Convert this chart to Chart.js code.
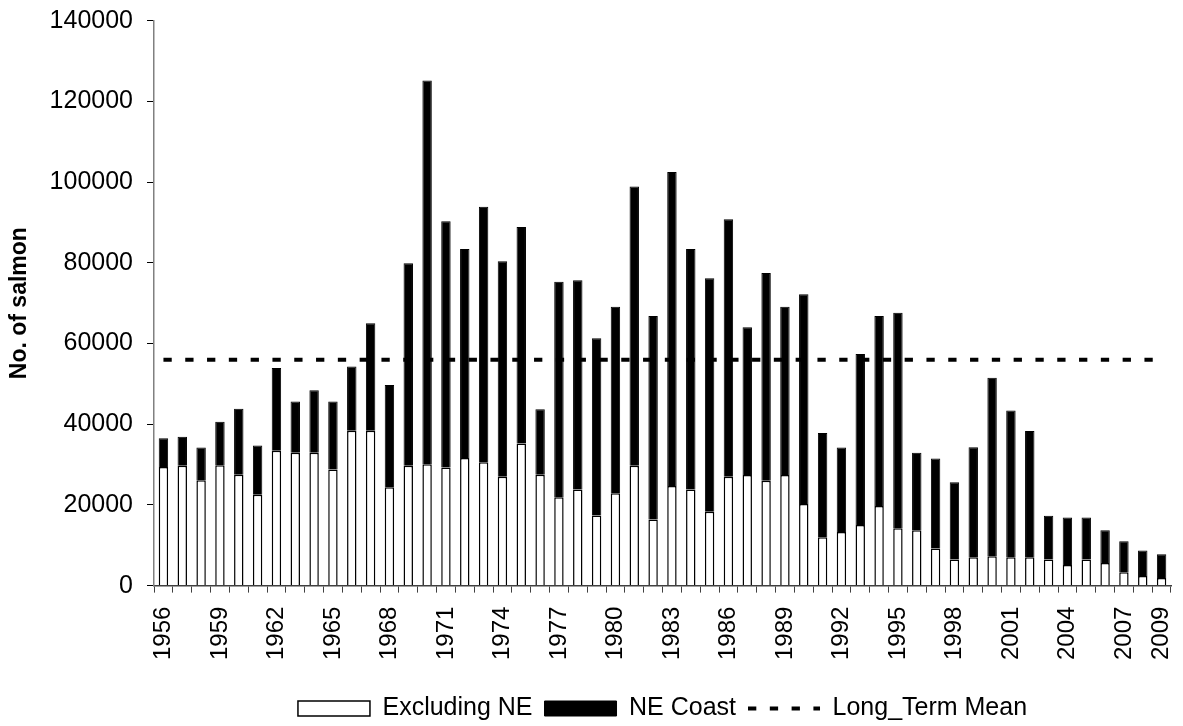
<!DOCTYPE html>
<html>
<head>
<meta charset="utf-8">
<script src="https://cdn.jsdelivr.net/npm/chart.js@4.4.1/dist/chart.umd.min.js"></script>
<style>
  html, body { margin: 0; padding: 0; background: #fff; }
  #wrap { width: 1183px; height: 726px; }
</style>
</head>
<body>
<div id="wrap"><canvas id="salmonChart"></canvas></div>
<script>
const years = [
  "1956", "1957", "1958", "1959", "1960", "1961", "1962", "1963", "1964", "1965",
  "1966", "1967", "1968", "1969", "1970", "1971", "1972", "1973", "1974", "1975",
  "1976", "1977", "1978", "1979", "1980", "1981", "1982", "1983", "1984", "1985",
  "1986", "1987", "1988", "1989", "1990", "1991", "1992", "1993", "1994", "1995",
  "1996", "1997", "1998", "1999", "2000", "2001", "2002", "2003", "2004", "2005",
  "2006", "2007", "2008", "2009"
];

// catch outside the NE coast (white part of the bar)
const excludingNE = [
  29400, 29700, 26100, 29800, 27500, 22500, 33400, 32900, 32900, 28800,
  38400, 38400, 24400, 29700, 30100, 29300, 31600, 30600, 27000, 35200,
  27500, 21900, 23800, 17400, 22900, 29700, 16400, 24700, 23800, 18300,
  27000, 27400, 26000, 27400, 20200, 12000, 13300, 15000, 19700, 14200,
  13700, 9200, 6500, 7000, 7300, 7000, 7000, 6500, 5100, 6500,
  5600, 3300, 2400, 1900
];

// NE coast catch (black part, stacked on top)
const neCoast = [
  7100, 7200, 8100, 10800, 16300, 12200, 20500, 12700, 15500, 16800,
  15900, 26600, 25300, 50200, 95100, 61000, 51800, 63300, 53400, 53700,
  16200, 53400, 51900, 43900, 46200, 69200, 50400, 77800, 59600, 57900,
  63800, 36600, 51500, 41700, 52000, 25800, 20900, 42400, 47100, 53400,
  19200, 22300, 19100, 27300, 44200, 36400, 31300, 10800, 11800, 10400,
  8100, 7700, 6300, 5900
];

const longTermMean = 56000;
const yTicks = [0, 20000, 40000, 60000, 80000, 100000, 120000, 140000];

const FONT = "'Liberation Sans', Arial, sans-serif";
const MEAN_DASH = [8.3, 13.5];

const ctx = document.getElementById('salmonChart').getContext('2d');

new Chart(ctx, {
  data: {
    labels: years,
    datasets: [
      {
        type: 'bar',
        label: 'Excluding NE',
        data: excludingNE,
        backgroundColor: '#ffffff',
        borderColor: '#000000',
        borderWidth: 1.5,
        stack: 'catch',
        categoryPercentage: 1,
        barPercentage: 0.5
      },
      {
        type: 'bar',
        label: 'NE Coast',
        data: neCoast,
        backgroundColor: '#000000',
        borderColor: '#000000',
        borderWidth: 1,
        stack: 'catch',
        categoryPercentage: 1,
        barPercentage: 0.5
      },
      {
        type: 'line',
        label: 'Long_Term Mean',
        data: years.map(() => longTermMean),
        borderColor: '#000000',
        backgroundColor: '#000000',
        borderWidth: 4,
        borderDash: MEAN_DASH,
        pointRadius: 0,
        fill: false,
        stack: 'mean'
      }
    ]
  },
  options: {
    responsive: true,
    maintainAspectRatio: false,
    animation: false,
    layout: { padding: { top: 20.7, right: 12, bottom: -5, left: 0 } },
    scales: {
      x: {
        stacked: true,
        offset: true,
        // labels may hang past the plot edge, like Excel does
        afterFit: s => { s.paddingLeft = 0; s.paddingRight = 0; s.height += 10; },
        grid: {
          offset: true,
          drawOnChartArea: false,
          drawTicks: true,
          tickLength: 7,
          color: '#404040'
        },
        border: { color: '#404040', width: 1.5 },
        ticks: {
          autoSkip: false,
          maxRotation: 90,
          minRotation: 90,
          padding: 14,
          color: '#000',
          font: { family: FONT, size: 24 },
          callback: (v, i) => (i % 3 === 0 || i === years.length - 1) ? years[i] : ''
        }
      },
      y: {
        stacked: true,
        min: 0,
        max: 140000,
        afterBuildTicks: axis => { axis.ticks = yTicks.map(v => ({ value: v })); },
        afterFit: s => { s.paddingTop = 0; s.paddingBottom = 0; },
        grid: {
          drawOnChartArea: false,
          drawTicks: true,
          tickLength: 7,
          color: '#000'
        },
        border: { color: '#808080', width: 1.5 },
        ticks: {
          padding: 14,
          color: '#000',
          font: { family: FONT, size: 25 },
          callback: v => String(v)
        },
        title: {
          display: true,
          text: 'No. of salmon',
          color: '#000',
          font: { family: FONT, size: 23, weight: 'bold' },
          padding: { top: 6, bottom: 2 }
        }
      }
    },
    plugins: {
      tooltip: { enabled: false },
      legend: {
        position: 'bottom',
        fullSize: false,
        labels: {
          usePointStyle: true,
          pointStyleWidth: 72,
          boxHeight: 15,
          padding: 12,
          color: '#000',
          font: { family: FONT, size: 25 },
          generateLabels: chart => {
            const items = Chart.defaults.plugins.legend.labels.generateLabels(chart);
            items.forEach(it => {
              if (it.datasetIndex === 2) {
                it.pointStyle = 'line';
                it.lineDash = MEAN_DASH;
                it.lineWidth = 4;
                it.strokeStyle = '#000';
              } else {
                it.pointStyle = 'rect';
              }
            });
            return items;
          }
        }
      }
    }
  }
});
</script>
</body>
</html>
